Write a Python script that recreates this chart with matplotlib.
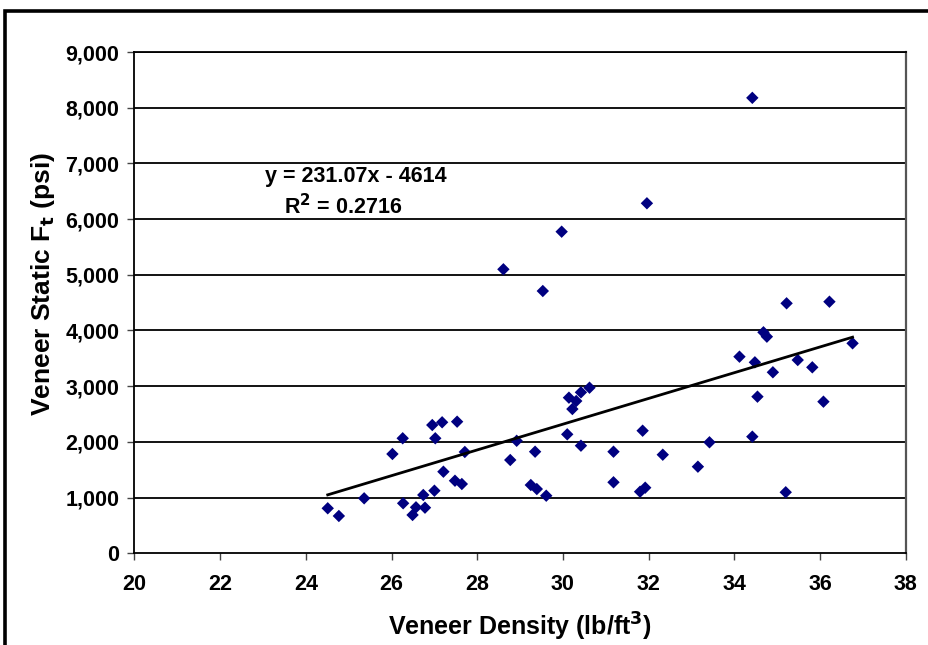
import matplotlib
matplotlib.use("Agg")
import matplotlib.pyplot as plt
from matplotlib.ticker import FuncFormatter
from matplotlib.patches import Rectangle
import numpy as np

plt.rcParams['font.family'] = ['Liberation Sans', 'DejaVu Sans']

density = [24.51, 24.77, 25.36, 26.02, 26.26, 26.27, 26.49, 26.57, 26.78, 26.74,
           26.95, 27.18, 27.02, 27.00, 27.21, 27.53, 27.71, 27.48, 27.64, 28.77,
           28.92, 29.35, 29.25, 29.39, 29.61, 30.10, 30.14, 30.31, 30.22, 30.42,
           30.62, 30.42, 31.18, 31.18, 31.86, 31.80, 31.92, 32.33, 33.15, 33.42,
           28.61, 29.97, 29.53, 31.96, 35.22, 36.22, 34.68, 34.76, 34.12, 34.48,
           35.48, 35.82, 34.90, 36.76, 34.54, 36.08, 34.42, 35.20, 34.42]
strength = [808, 670, 987, 1783, 2065, 898, 688, 826, 819, 1047,
            2303, 2352, 2065, 1124, 1465, 2363, 1819, 1303, 1244, 1675,
            2020, 1824, 1226, 1154, 1034, 2136, 2794, 2734, 2590, 2890,
            2973, 1932, 1824, 1275, 2201, 1106, 1178, 1770, 1555, 1993,
            5099, 5774, 4709, 6284, 4488, 4517, 3968, 3889, 3530, 3429,
            3470, 3339, 3250, 3770, 2812, 2722, 2094, 1096, 8177]

slope = 231.07
intercept = -4614
r_squared = 0.2716

x_ticks = [20, 22, 24, 26, 28, 30, 32, 34, 36, 38]
y_ticks = [0, 1000, 2000, 3000, 4000, 5000, 6000, 7000, 8000, 9000]

W, H = 929, 645
fig = plt.figure(figsize=(W / 100, H / 100), dpi=100)
fig.patch.set_facecolor('white')

# outer frame (cropped chart border)
fig.patches.append(Rectangle((5.5 / W, -0.2), 1.5, (H - 10.5) / H + 0.2,
                             transform=fig.transFigure, fill=False,
                             edgecolor='black', linewidth=2.6, zorder=0))

left, right, top, bottom = 134.5, 905.7, 52.0, 553.3
ax = fig.add_axes([left / W, (H - bottom) / H, (right - left) / W, (bottom - top) / H])

ax.set_xlim(20, 38)
ax.set_ylim(0, 9000)
ax.set_xticks(x_ticks)
ax.set_yticks(y_ticks)
ax.yaxis.set_major_formatter(FuncFormatter(lambda v, p: f"{int(v):,}"))

for y in y_ticks[1:]:
    ax.axhline(y, color='black', linewidth=1.3, zorder=1)

ax.scatter(density, strength, marker='D', s=40, color='#000080',
           edgecolors='none', zorder=3)

xl = np.array([min(density), max(density)])
ax.plot(xl, slope * xl + intercept, color='black', linewidth=2.0, zorder=4)

for s in ['left', 'bottom', 'top']:
    ax.spines[s].set_color('black')
    ax.spines[s].set_linewidth(1.3)
ax.spines['right'].set_color('#555555')
ax.spines['right'].set_linewidth(1.6)

ax.tick_params(axis='both', direction='out', length=5, width=1.0, color='#444444',
               labelsize=15.5)
ax.tick_params(axis='x', pad=10)
ax.tick_params(axis='y', pad=6)
for lab in ax.get_xticklabels() + ax.get_yticklabels():
    lab.set_fontweight('bold')

ax.set_xlabel('Veneer Density (lb/ft$^\\mathbf{3}$)', fontsize=18, fontweight='bold', labelpad=11)
ax.set_ylabel('Veneer Static F$_\\mathbf{t}$ (psi)', fontsize=19, fontweight='bold')
ax.yaxis.set_label_coords((57 - left) / (right - left), (bottom - 284) / (bottom - top))

ax.text(355.5 / W, 1 - 177 / H, f'y = {slope}x - {abs(intercept)}', transform=fig.transFigure,
        fontsize=15.5, fontweight='bold', ha='center', va='center')
ax.text(343 / W, 1 - 207 / H, f'R$^\\mathbf{{2}}$ = {r_squared}', transform=fig.transFigure,
        fontsize=15.5, fontweight='bold', ha='center', va='center')

fig.savefig('out.png', dpi=100)
